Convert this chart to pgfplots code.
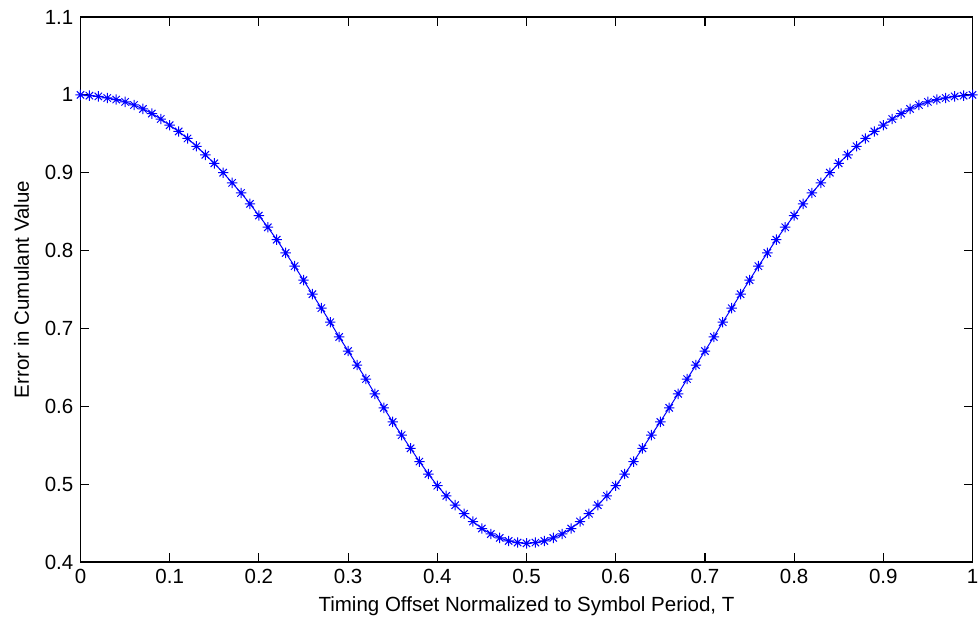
\documentclass[border=0pt]{standalone}
\usepackage{fontspec}
\setmainfont{Liberation Sans}
\usepackage{pgfplots}
\pgfplotsset{compat=1.18}
\pgfdeclareplotmark{matstar}{%
  \pgfpathmoveto{\pgfqpoint{-\pgfplotmarksize}{0pt}}%
  \pgfpathlineto{\pgfqpoint{\pgfplotmarksize}{0pt}}%
  \pgfpathmoveto{\pgfqpoint{0pt}{-\pgfplotmarksize}}%
  \pgfpathlineto{\pgfqpoint{0pt}{\pgfplotmarksize}}%
  \pgfpathmoveto{\pgfqpoint{-0.707\pgfplotmarksize}{-0.707\pgfplotmarksize}}%
  \pgfpathlineto{\pgfqpoint{0.707\pgfplotmarksize}{0.707\pgfplotmarksize}}%
  \pgfpathmoveto{\pgfqpoint{-0.707\pgfplotmarksize}{0.707\pgfplotmarksize}}%
  \pgfpathlineto{\pgfqpoint{0.707\pgfplotmarksize}{-0.707\pgfplotmarksize}}%
  \pgfusepathqstroke}
\begin{document}
\fontsize{10.25bp}{12bp}\selectfont
\begin{tikzpicture}
\path[use as bounding box] (-40.25bp,-31bp) rectangle (449.75bp,281bp);
\begin{axis}[
  at={(0,0)}, anchor=south west,
  width=446bp, height=272.5bp, scale only axis,
  clip=false,
  xmin=0, xmax=1, ymin=0.4, ymax=1.1,
  xtick={0,0.1,...,1.0}, ytick={0.4,0.5,...,1.1},
  xticklabels={0,0.1,0.2,0.3,0.4,0.5,0.6,0.7,0.8,0.9,1},
  yticklabels={0.4,0.5,0.6,0.7,0.8,0.9,1,1.1},
  tick align=inside, tick pos=both,
  major tick length=4.5bp,
  axis line style={line width=0.6bp},
  every tick/.style={black, line width=0.6bp},
  tick label style={font=\fontsize{10.25bp}{12bp}\selectfont},
  /pgf/number format/assume math mode=true,
  xlabel={Timing Offset Normalized to Symbol Period, T},
  ylabel={Error in Cumulant Value},
  label style={font=\fontsize{10.25bp}{12bp}\selectfont},
  xlabel style={at={(axis description cs:0.5,0)}, anchor=base, yshift=-24.5bp},
  ylabel style={at={(axis description cs:-0.066,0.5)}, anchor=center},
]
\addplot[color={rgb,255:red,0;green,0;blue,255}, line width=0.5bp, mark=matstar, mark size=2.6bp, mark options={line width=0.5bp}] coordinates {
(0.00,1.000) (0.01,0.999) (0.02,0.998) (0.03,0.996) (0.04,0.994)
(0.05,0.991) (0.06,0.987) (0.07,0.982) (0.08,0.976) (0.09,0.969)
(0.10,0.961) (0.11,0.953) (0.12,0.944) (0.13,0.934) (0.14,0.923)
(0.15,0.912) (0.16,0.900) (0.17,0.887) (0.18,0.874) (0.19,0.860)
(0.20,0.845) (0.21,0.830) (0.22,0.814) (0.23,0.797) (0.24,0.780)
(0.25,0.762) (0.26,0.744) (0.27,0.726) (0.28,0.708) (0.29,0.689)
(0.30,0.671) (0.31,0.653) (0.32,0.635) (0.33,0.616) (0.34,0.598)
(0.35,0.580) (0.36,0.563) (0.37,0.546) (0.38,0.529) (0.39,0.513)
(0.40,0.498) (0.41,0.485) (0.42,0.473) (0.43,0.462) (0.44,0.452)
(0.45,0.443) (0.46,0.436) (0.47,0.431) (0.48,0.427) (0.49,0.425)
(0.50,0.424)
(0.51,0.425) (0.52,0.427) (0.53,0.431) (0.54,0.436) (0.55,0.443)
(0.56,0.452) (0.57,0.462) (0.58,0.473) (0.59,0.485) (0.60,0.498)
(0.61,0.513) (0.62,0.529) (0.63,0.546) (0.64,0.563) (0.65,0.580)
(0.66,0.598) (0.67,0.616) (0.68,0.635) (0.69,0.653) (0.70,0.671)
(0.71,0.689) (0.72,0.708) (0.73,0.726) (0.74,0.744) (0.75,0.762)
(0.76,0.780) (0.77,0.797) (0.78,0.814) (0.79,0.830) (0.80,0.845)
(0.81,0.860) (0.82,0.874) (0.83,0.887) (0.84,0.900) (0.85,0.912)
(0.86,0.923) (0.87,0.934) (0.88,0.944) (0.89,0.953) (0.90,0.961)
(0.91,0.969) (0.92,0.976) (0.93,0.982) (0.94,0.987) (0.95,0.991)
(0.96,0.994) (0.97,0.996) (0.98,0.998) (0.99,0.999) (1.00,1.000)
};
\end{axis}
\end{tikzpicture}
\end{document}
